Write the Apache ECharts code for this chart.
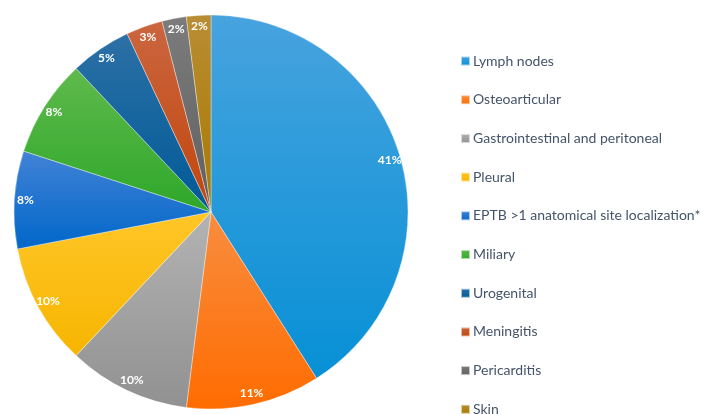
<!DOCTYPE html>
<html>
<head>
<meta charset="utf-8">
<script src="https://cdn.jsdelivr.net/npm/echarts@6/dist/echarts.min.js"></script>
<style>html,body{margin:0;padding:0;background:#fff}#c{width:710px;height:414px}</style>
</head>
<body>
<div id="c"></div>
<script>
const categories = ['Lymph nodes','Osteoarticular','Gastrointestinal and peritoneal','Pleural','EPTB >1 anatomical site localization*','Miliary','Urogenital','Meningitis','Pericarditis','Skin'];
const values = [41, 11, 10, 10, 8, 8, 5, 3, 2, 2];
const colorsTop = ['#47a3de','#f88d40','#b3b3b3','#ffc628','#4282d6','#5fba4c','#2c70a6','#cb6640','#7c7c7c','#b98d34'];
const colorsBottom = ['#0790d6','#ff6c00','#919191','#f7b500','#0067c9','#2ea72a','#005a97','#c1450b','#5f5f5f','#a87900'];

function grad(i){
  return new echarts.graphic.LinearGradient(0,0,0,1,[{offset:0,color:colorsTop[i]},{offset:1,color:colorsBottom[i]}]);
}
const pieData = categories.map((n,i)=>({name:n,value:values[i],itemStyle:{color:grad(i)}}));
const labelData = categories.map((n,i)=>({name:n,value:values[i]}));

const chart = echarts.init(document.getElementById('c'), null, {renderer:'canvas'});
chart.setOption({
  animation:false,
  color: colorsBottom,
  legend:{
    orient:'vertical', left:460, top:54, height:400, padding:0,
    itemWidth:9, itemHeight:9, itemGap:24.7,
    icon:'rect',
    data: categories,
    textStyle:{fontFamily:'Lato', fontSize:14, color:'#44546a', lineHeight:14, padding:[0,0,0,-2]},
    selectedMode:false
  },
  series:[
    {
      type:'pie', center:[211,212], radius:[0,197], startAngle:90, clockwise:true,
      data: pieData,
      label:{show:false}, labelLine:{show:false},
      itemStyle:{borderColor:'rgba(255,255,255,0.6)', borderWidth:0.6},
      emphasis:{disabled:true}, silent:true
    },
    {
      type:'pie', center:[211,212], radius:[168,198], startAngle:90, clockwise:true,
      data: labelData,
      itemStyle:{color:'rgba(0,0,0,0)', borderWidth:0},
      label:{show:true, position:'inside', formatter:'{c}%', color:'#ffffff', fontFamily:'Lato', fontWeight:'bold', fontSize:12},
      labelLine:{show:false},
      emphasis:{disabled:true}, silent:true, legendHoverLink:false
    }
  ]
});
</script>
</body>
</html>
